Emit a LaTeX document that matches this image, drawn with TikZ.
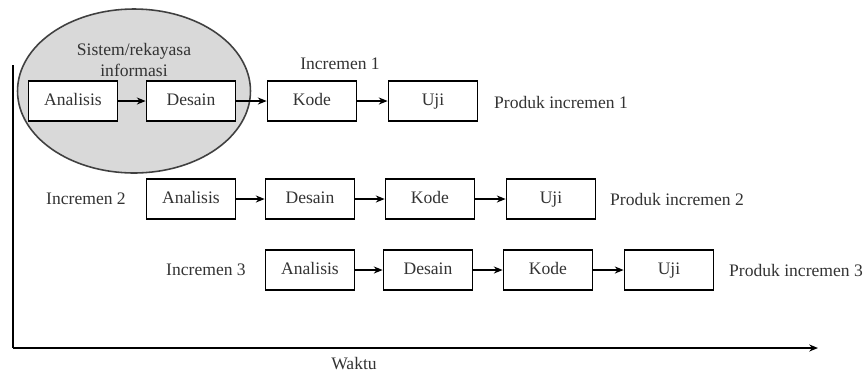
\documentclass[tikz,border=0pt]{standalone}
\usepackage{fontspec}
\setmainfont{Liberation Serif}
\usetikzlibrary{arrows.meta}

\begin{document}
\begin{tikzpicture}[>={Stealth[length=5pt,width=4pt]},x=0.02cm,y=-0.02cm,
  every node/.style={text=black!80,font=\fontsize{10}{12}\selectfont},
  tahap/.style={draw,fill=white,line width=1pt,minimum width=1.78cm,minimum height=0.8cm,
    inner sep=0pt,text height=1.6ex,text depth=0.4ex},
  alur/.style={->,line width=1.2pt}]
\useasboundingbox (0,0) rectangle (864,373);
\filldraw[fill=gray!30,draw=black!75,line width=0.9pt] (134,91) ellipse [x radius=2.33cm,y radius=1.64cm];
\node[align=center] (sis) at (134,60) {Sistem/rekayasa\\informasi};
\node (inc1) at (340,64) {Incremen 1};
% incremen 1
\node[tahap] (a1) at (73,101) {Analisis};
\node[tahap] (d1) at (191,101) {Desain};
\node[tahap] (k1) at (312,101) {Kode};
\node[tahap] (u1) at (433,101) {Uji};
\node (p1) at (561,102) {Produk incremen 1};
\draw[alur] (a1)--(d1);
\draw[alur] (d1)--(k1);
\draw[alur] (k1)--(u1);
% incremen 2
\node (inc2) at (86,199) {Incremen 2};
\node[tahap] (a2) at (191,199) {Analisis};
\node[tahap] (d2) at (310,199) {Desain};
\node[tahap] (k2) at (430,199) {Kode};
\node[tahap] (u2) at (551,199) {Uji};
\node (p2) at (677,199) {Produk incremen 2};
\draw[alur] (a2)--(d2);
\draw[alur] (d2)--(k2);
\draw[alur] (k2)--(u2);
% incremen 3
\node (inc3) at (206,270) {Incremen 3};
\node[tahap] (a3) at (310,270) {Analisis};
\node[tahap] (d3) at (428,270) {Desain};
\node[tahap] (k3) at (548,270) {Kode};
\node[tahap] (u3) at (669,270) {Uji};
\node (p3) at (796,270) {Produk incremen 3};
\draw[alur] (a3)--(d3);
\draw[alur] (d3)--(k3);
\draw[alur] (k3)--(u3);
% sumbu waktu
\coordinate (atas) at (13,65);
\coordinate (asal) at (13,348);
\coordinate (ujung) at (818,348);
\draw[line width=1.4pt] (atas)--(asal);
\draw[alur,line width=1.4pt] (asal)--(ujung);
\node[inner sep=1pt] (waktu) at (354,364) {Waktu};
\end{tikzpicture}
\end{document}
